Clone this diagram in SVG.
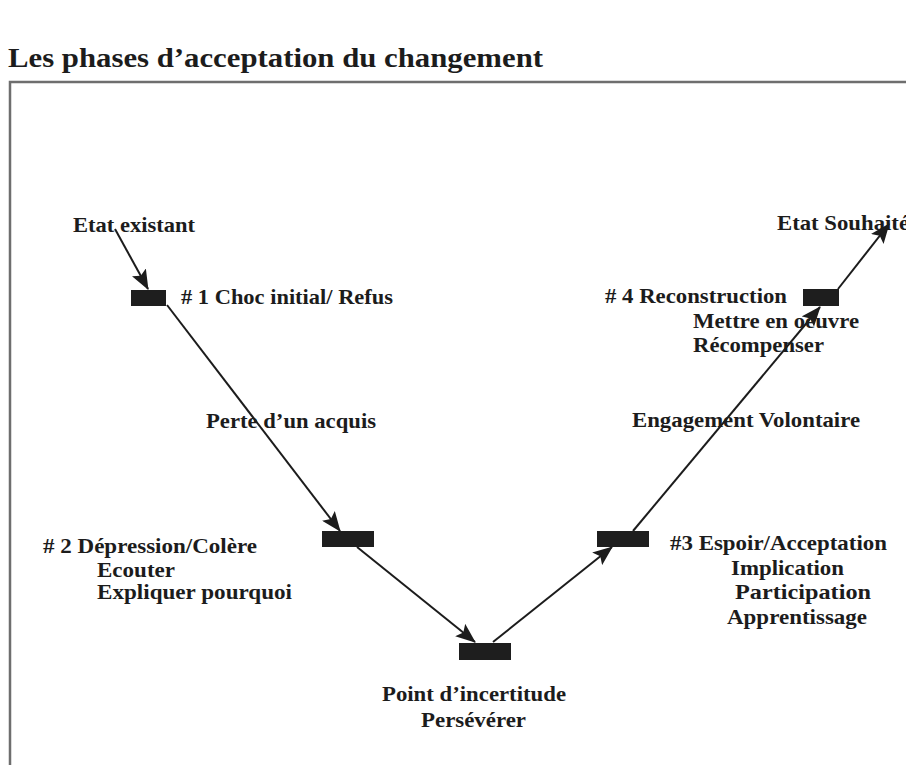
<svg xmlns="http://www.w3.org/2000/svg" width="906" height="765" viewBox="0 0 906 765">
<style>
text{font-family:"Liberation Serif","Times New Roman",serif;font-weight:bold;fill:#1c1c1c;font-size:21px}
.box{fill:#1e1e1e}
.edge{stroke:#1c1c1c;stroke-width:2;fill:none;marker-end:url(#ah)}
.frame{stroke:#6e6e6e;stroke-width:2.5;fill:none}
</style>
<defs>
<marker id="ah" markerUnits="userSpaceOnUse" markerWidth="20" markerHeight="16" refX="19" refY="8" orient="auto">
<path d="M0,0 L20,8 L0,16 L4,8 Z" fill="#1c1c1c"/>
</marker>
</defs>
<rect width="906" height="765" fill="#ffffff"/>
<text x="8" y="67" style="font-size:28px" textLength="535" lengthAdjust="spacingAndGlyphs">Les phases d’acceptation du changement</text>
<path class="frame" d="M10,765 L10,82 L906,82"/>
<g id="connectors">
<line class="edge" x1="115" y1="229" x2="148" y2="289"/>
<line class="edge" x1="167" y1="305" x2="340" y2="531"/>
<line class="edge" x1="357" y1="547" x2="475" y2="642"/>
<line class="edge" x1="493" y1="642" x2="612" y2="547"/>
<line class="edge" x1="633" y1="531" x2="820" y2="307"/>
<line class="edge" x1="838" y1="289" x2="889" y2="224"/>
</g>
<g id="etat-existant"><text x="73" y="232" textLength="122" lengthAdjust="spacingAndGlyphs">Etat existant</text></g>
<g id="phase1">
<rect class="box" x="131" y="290" width="35" height="16"/>
<text x="181" y="304" textLength="212" lengthAdjust="spacingAndGlyphs"># 1 Choc initial/ Refus</text>
</g>
<g id="perte"><text x="206" y="428" textLength="170" lengthAdjust="spacingAndGlyphs">Perte d’un acquis</text></g>
<g id="phase2">
<rect class="box" x="322" y="531" width="52" height="16"/>
<text x="43" y="553" textLength="214" lengthAdjust="spacingAndGlyphs"># 2 Dépression/Colère</text>
<text x="97" y="577" textLength="78" lengthAdjust="spacingAndGlyphs">Ecouter</text>
<text x="97" y="599" textLength="195" lengthAdjust="spacingAndGlyphs">Expliquer pourquoi</text>
</g>
<g id="point">
<rect class="box" x="459" y="643" width="52" height="17"/>
<text x="382" y="701" textLength="184" lengthAdjust="spacingAndGlyphs">Point d’incertitude</text>
<text x="421" y="727" textLength="105" lengthAdjust="spacingAndGlyphs">Persévérer</text>
</g>
<g id="phase3">
<rect class="box" x="597" y="531" width="52" height="16"/>
<text x="670" y="550" textLength="217" lengthAdjust="spacingAndGlyphs">#3 Espoir/Acceptation</text>
<text x="731" y="575" textLength="113" lengthAdjust="spacingAndGlyphs">Implication</text>
<text x="735" y="599" textLength="136" lengthAdjust="spacingAndGlyphs">Participation</text>
<text x="727" y="624" textLength="140" lengthAdjust="spacingAndGlyphs">Apprentissage</text>
</g>
<g id="engagement"><text x="632" y="427" textLength="228" lengthAdjust="spacingAndGlyphs">Engagement Volontaire</text></g>
<g id="phase4">
<rect class="box" x="803" y="289" width="36" height="17"/>
<text x="605" y="303" textLength="182" lengthAdjust="spacingAndGlyphs"># 4 Reconstruction</text>
<text x="693" y="328" textLength="166" lengthAdjust="spacingAndGlyphs">Mettre en oeuvre</text>
<text x="693" y="352" textLength="131" lengthAdjust="spacingAndGlyphs">Récompenser</text>
</g>
<g id="etat-souhaite"><text x="777" y="230" textLength="132" lengthAdjust="spacingAndGlyphs">Etat Souhaité</text></g>
</svg>
